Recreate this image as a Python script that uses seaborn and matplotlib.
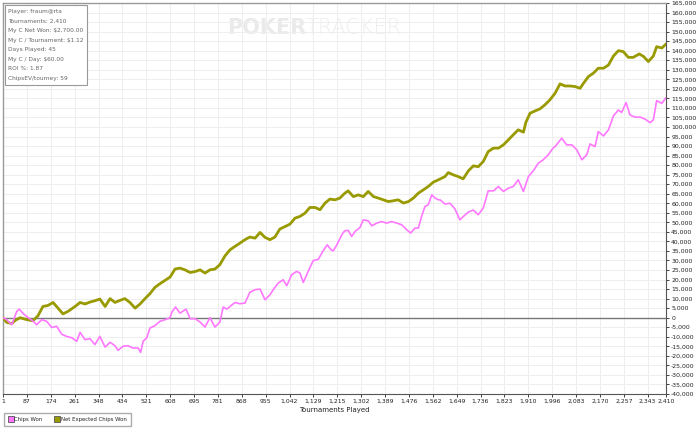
import pandas as pd
import matplotlib
matplotlib.use('Agg')
import matplotlib.pyplot as plt
import seaborn as sns
from matplotlib.ticker import FuncFormatter

# tournament number / chips values
chips_t = [1, 14, 33, 51, 60, 75, 93, 111, 123, 142, 160, 178, 196, 214, 232, 251, 269, 281, 299, 317,
           335, 353, 372, 390, 408, 419, 437, 455, 473, 492, 501, 510, 523, 535, 553, 571, 590, 608, 614,
           628, 644, 666, 681, 699, 717, 735, 753, 771, 789, 801, 814, 826, 844, 862, 880, 898, 917, 935,
           953, 971, 983, 1001, 1019, 1032, 1050, 1068, 1080, 1092, 1110, 1128, 1147, 1165, 1179, 1195,
           1201, 1213, 1232, 1243, 1255, 1268, 1280, 1298, 1310, 1328, 1341, 1359, 1377, 1395, 1413, 1432,
           1450, 1468, 1482, 1498, 1510, 1522, 1534, 1546, 1559, 1571, 1583, 1589, 1607, 1625, 1643, 1661,
           1673, 1692, 1710, 1728, 1746, 1764, 1783, 1801, 1819, 1837, 1855, 1873, 1892, 1910, 1928, 1946,
           1964, 1982, 2001, 2007, 2031, 2049, 2068, 2086, 2104, 2122, 2134, 2152, 2164, 2183, 2201, 2219,
           2237, 2249, 2265, 2279, 2297, 2316, 2334, 2352, 2364, 2376, 2395, 2410]
chips_won = [0, -1000, -3700, 3300, 4500, 2100, 0, -1900, -3700, -1000, -1900, -5100, -4500, -8600, -9800,
             -10500, -12400, -7700, -11500, -11000, -14100, -9800, -15400, -12900, -14700, -17100, -15000,
             -14700, -15900, -15900, -18200, -12400, -10600, -5400, -4200, -1900, -1000, 0, 2800, 5600, 2400,
             4500, -500, -500, -2300, -4900, 0, -4900, -2300, 5600, 4500, 5900, 8000, 7300, 7700, 13300,
             14700, 15000, 9400, 12000, 14700, 18200, 19900, 16800, 22500, 24300, 23400, 18500, 24300, 29900,
             30700, 35300, 38200, 35300, 35100, 37900, 43500, 45600, 45800, 42600, 45200, 47300, 51300, 50800,
             48200, 49600, 50400, 49600, 50400, 49600, 48700, 46100, 44400, 47000, 47000, 53100, 58300, 59200,
             64400, 62700, 61800, 61800, 59600, 60000, 57100, 51300, 53000, 55400, 56400, 54000, 57500, 66500,
             66500, 68800, 66200, 67900, 68800, 72300, 66200, 74000, 77000, 81000, 82800, 85400, 89200, 89700,
             94100, 90600, 90600, 88000, 82800, 85400, 91100, 89700, 97600, 95300, 98500, 105800, 108900,
             107600, 112800, 106300, 105200, 105200, 104100, 102300, 103700, 113800, 112400, 115400]

ev_t = [1, 14, 33, 45, 63, 87, 110, 128, 146, 164, 183, 201, 219, 237, 263, 281, 299, 317, 335, 353, 372,
        390, 408, 426, 444, 462, 481, 499, 517, 535, 553, 571, 590, 608, 626, 644, 662, 681, 699, 717, 735,
        753, 771, 789, 808, 826, 844, 862, 880, 898, 917, 935, 953, 971, 989, 1007, 1026, 1044, 1062, 1080,
        1098, 1116, 1135, 1153, 1171, 1189, 1207, 1225, 1243, 1255, 1274, 1292, 1310, 1328, 1347, 1365,
        1383, 1401, 1419, 1437, 1456, 1474, 1492, 1510, 1528, 1546, 1565, 1583, 1607, 1619, 1637, 1655,
        1673, 1692, 1710, 1728, 1746, 1764, 1783, 1801, 1819, 1837, 1855, 1873, 1892, 1901, 1916, 1934,
        1952, 1970, 1988, 2007, 2025, 2043, 2061, 2079, 2098, 2110, 2128, 2146, 2164, 2183, 2201, 2219,
        2237, 2255, 2273, 2291, 2313, 2328, 2346, 2364, 2376, 2395, 2410]
ev_won = [0, -2400, -3100, -1400, 0, -1000, -1600, 1000, 5900, 6400, 8000, 5000, 2000, 3300, 5900, 8000,
          7200, 8200, 8900, 9800, 5900, 10000, 8000, 9100, 10000, 8000, 5000, 7200, 10000, 12600, 15900,
          17800, 19600, 21300, 25500, 26000, 25100, 23700, 24200, 25100, 23400, 25100, 25500, 27800, 32500,
          35600, 37400, 39100, 40900, 42300, 41700, 44700, 42100, 40900, 42300, 46500, 47800, 49100, 52200,
          53100, 54800, 57800, 57800, 56600, 60100, 62200, 61800, 62700, 65300, 66500, 63500, 64400, 63500,
          66200, 63500, 62700, 61800, 60900, 61300, 61800, 60100, 60900, 62700, 65300, 67000, 68800, 71100,
          72300, 74000, 76100, 74900, 74000, 72800, 77000, 79600, 79200, 81900, 87100, 88900, 88900, 90600,
          93200, 95900, 98500, 97300, 102500, 107200, 108400, 109500, 111600, 114200, 117700, 122600,
          121500, 121500, 121200, 120300, 122900, 126400, 128200, 130800, 130800, 132500, 137200, 140000,
          139500, 136500, 136500, 138300, 137000, 134300, 137200, 142100, 141400, 143500]

x_ticks = [1, 87, 174, 261, 348, 434, 521, 608, 695, 781, 868, 955, 1042, 1129, 1215, 1302, 1389, 1476,
           1562, 1649, 1736, 1823, 1910, 1996, 2083, 2170, 2257, 2343, 2410]

stats_lines = ['Player: fraum@rta', 'Tournaments: 2,410', 'My C Net Won: $2,700.00',
               'My C / Tournament: $1.12', 'Days Played: 45', 'My C / Day: $60.00',
               'ROI %: 1.87', 'ChipsEV/tourney: 59']

chips_df = pd.DataFrame({'Tournament': chips_t, 'Chips': chips_won})
ev_df = pd.DataFrame({'Tournament': ev_t, 'Chips': ev_won})

sns.set_style('white')
plt.rcParams['font.family'] = ['DejaVu Sans']

fig = plt.figure(figsize=(7, 4.3), dpi=100)
ax = fig.add_axes([3 / 700, 36 / 430, 663 / 700, 391 / 430])

pink = '#ff77ff'
olive = '#999900'

ax.axhline(0, color='#777777', lw=1.0, zorder=1)
sns.lineplot(data=ev_df, x='Tournament', y='Chips', ax=ax, color=olive, lw=2.0, zorder=3)
sns.lineplot(data=chips_df, x='Tournament', y='Chips', ax=ax, color=pink, lw=1.2, zorder=3)

ax.set_xlim(1, 2410)
ax.set_ylim(-40000, 165000)
ax.set_xticks(x_ticks)
ax.set_yticks(range(-40000, 165001, 5000))
fmt = FuncFormatter(lambda v, p: f'{int(v):,}')
ax.xaxis.set_major_formatter(fmt)
ax.yaxis.set_major_formatter(fmt)
ax.yaxis.tick_right()
ax.tick_params(axis='both', labelsize=4.4, colors='#222222', length=2.5, width=0.6, pad=1.2, direction='out')
ax.tick_params(axis='x', bottom=True)
ax.tick_params(axis='y', right=True, left=False)
ax.grid(True, color='#eeeeee', lw=0.7)
ax.set_axisbelow(True)
ax.set_xlabel('Tournaments Played', fontsize=5.0, color='#222222', labelpad=2)
ax.set_ylabel('')

for side in ['left', 'top']:
    ax.spines[side].set_color('#999999')
    ax.spines[side].set_linewidth(1.0)
for side in ['right', 'bottom']:
    ax.spines[side].set_color('#555555')
    ax.spines[side].set_linewidth(0.8)

# stats box
ax.text(0.008, 0.985, '\n'.join(stats_lines), transform=ax.transAxes, va='top', ha='left',
        fontsize=4.2, color='#666666', linespacing=2.15,
        bbox=dict(boxstyle='square,pad=0.6', fc='white', ec='#999999', lw=0.8))

# watermark
ax.text(0.457, 0.935, 'POKER', transform=ax.transAxes, fontsize=15, fontweight='bold',
        color='#eaeaea', ha='right', va='center', zorder=0)
ax.text(0.457, 0.935, 'TRACKER', transform=ax.transAxes, fontsize=15, fontweight='light',
        color='#eeeeee', ha='left', va='center', zorder=0)

handles = [plt.Line2D([], [], marker='s', ls='', markersize=4.0, markerfacecolor=pink, markeredgecolor='#555555', markeredgewidth=0.6),
           plt.Line2D([], [], marker='s', ls='', markersize=4.0, markerfacecolor=olive, markeredgecolor='#555555', markeredgewidth=0.6)]
fig.legend(handles, ['Chips Won', 'Net Expected Chips Won'], loc='lower left', bbox_to_anchor=(0.002, 0.002),
           ncol=2, fontsize=3.9, frameon=True, fancybox=False, edgecolor='#999999', handletextpad=0.1,
           columnspacing=2.2, borderpad=0.8, handlelength=1.0)

fig.savefig('out.png', dpi=100)
